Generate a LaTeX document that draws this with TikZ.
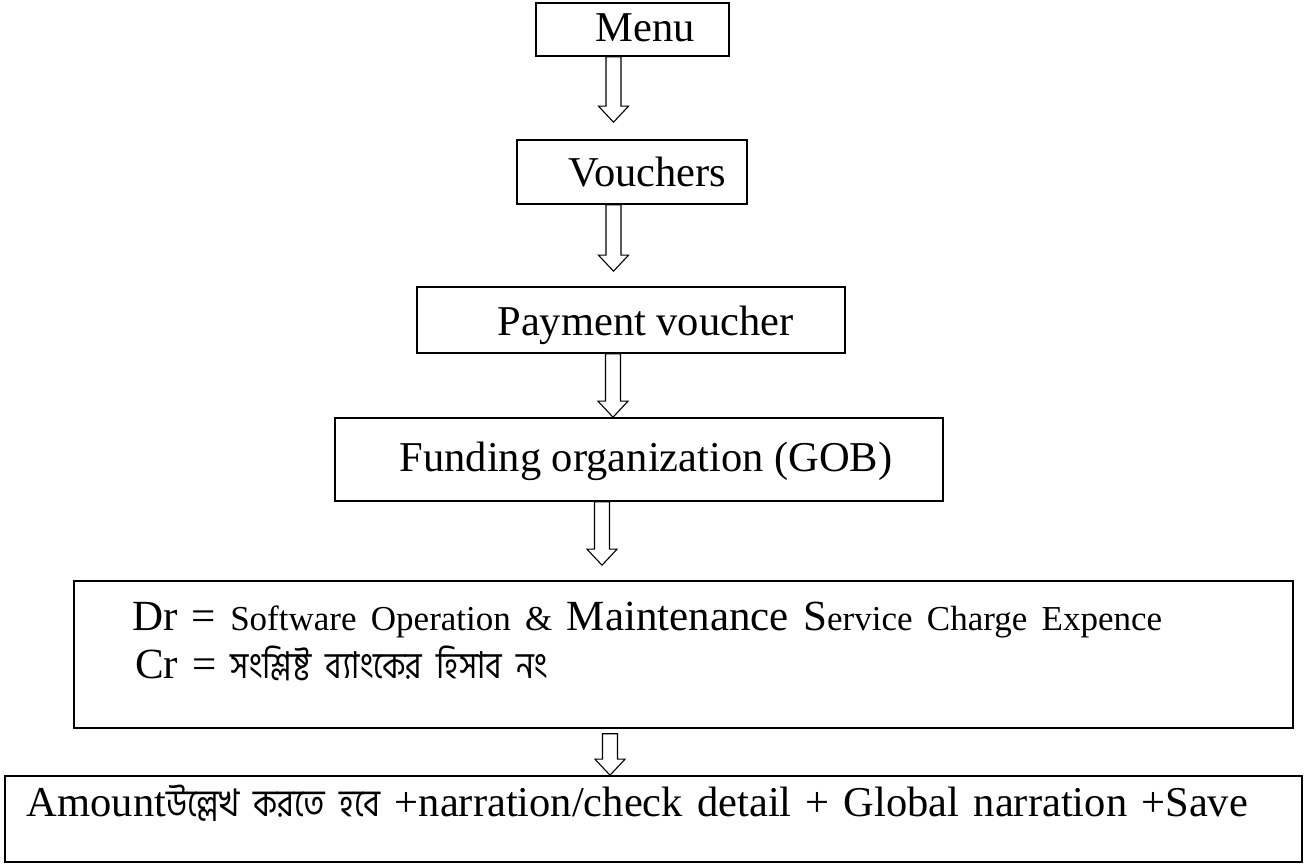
\documentclass[tikz,border=0pt]{standalone}
\usepackage{fontspec}
\setmainfont{Liberation Serif}
\newfontfamily\bnfont[Script=Bengali, FakeStretch=0.85]{Hind Siliguri}
\usetikzlibrary{calc}

\begin{document}
\begin{tikzpicture}[x=1pt, y=1pt,
  box/.style={draw, line width=1.6pt, inner xsep=0pt, inner ysep=0pt,
    font=\fontsize{42.5}{48}\selectfont},
  blockarrow/.style={line width=1.1pt, to path={let \p1=(\tikztostart), \p2=(\tikztotarget) in
    (\x1-7.5pt,\y1) -- (\x1-7.5pt,\y2+16pt) -- (\x1-15pt,\y2+16pt) -- (\x1,\y2)
    -- (\x1+15pt,\y2+16pt) -- (\x1+7.5pt,\y2+16pt) -- (\x1+7.5pt,\y1) -- cycle}}]
  \useasboundingbox (0,0) rectangle (1315,865);

  \node[box, minimum width=193pt, text height=39pt, text depth=14pt] (menu) at (632.5,835.5)
    {\hspace*{25pt}Menu};
  \node[box, minimum width=230pt, text height=47pt, text depth=17pt] (vouchers) at (632,693)
    {\hspace*{31pt}Vouchers};
  \node[box, minimum width=428pt, text height=49pt, text depth=17pt] (payment) at (631,545)
    {\hspace*{29pt}Payment voucher};
  \node[box, minimum width=608pt, text height=54pt, text depth=29pt] (funding) at (639,405.5)
    {\hspace*{14pt}Funding organization (GOB)};
  \node[box, inner xsep=58pt, text width=1103pt, align=left, text height=50pt, text depth=97pt,
    font=\fontsize{43}{48}\selectfont] (drcr) at (683.5,210.5)
    {Dr = {\fontsize{35}{38}\selectfont Software Operation \& }Maintenance S{\fontsize{35}{38}\selectfont ervice Charge Expence}\\
     \hspace*{3pt}Cr = {\bnfont\fontsize{37}{38}\selectfont সংশ্লিষ্ট ব্যাংকের হিসাব নং}};
  \node[box, inner xsep=22pt, text width=1253pt, align=left, text height=41pt, text depth=45pt]
    (amount) at (653.5,46)
    {Amount{\bnfont\fontsize{38}{38}\selectfont উল্লেখ করতে হবে} +narration/check detail + Global narration +Save};

  \draw[blockarrow] ([xshift=-19pt]menu.south) to ([yshift=17pt]vouchers.north);
  \draw[blockarrow] ([xshift=-18.5pt]vouchers.south) to ([yshift=15pt]payment.north);
  \draw[blockarrow] ([xshift=-18pt]payment.south) to (funding.north);
  \draw[blockarrow] ([xshift=-37pt]funding.south) to ([yshift=15pt]drcr.north);
  \draw[blockarrow] ([xshift=-73.5pt,yshift=-5pt]drcr.south) to (amount.north);
\end{tikzpicture}
\end{document}
